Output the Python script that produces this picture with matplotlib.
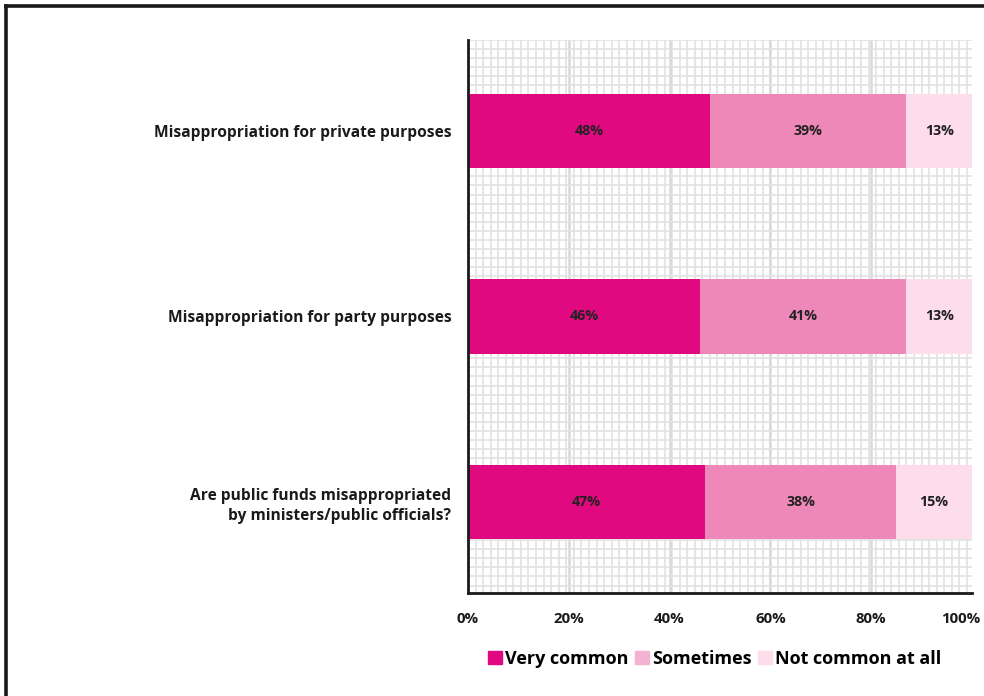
import numpy as np
import matplotlib.pyplot as plt
from matplotlib.patches import Patch
from matplotlib.lines import Line2D
from matplotlib.transforms import ScaledTranslation

plt.rcParams['font.family'] = ['Open Sans', 'DejaVu Sans']

categories = ["Misappropriation for private purposes",
              "Misappropriation for party purposes",
              "Are public funds misappropriated\nby ministers/public officials?"]
very_common = [48, 46, 47]
sometimes = [39, 41, 38]
not_common = [13, 13, 15]
series_names = ["Very common", "Sometimes", "Not common at all"]
x_ticks = [0, 20, 40, 60, 80, 100]

c_very = "#E0097F"
c_some = "#EE88B8"
c_not = "#FDDCEB"

fig = plt.figure(figsize=(9.84, 6.96), dpi=100)
ax = fig.add_axes([468 / 984, 103 / 696, 504 / 984, 553 / 696])

# background grid
for x in np.arange(0, 100.1, 1.5):
    ax.axvline(x, color="#E2E2E2", lw=1.2, zorder=0)
for x in x_ticks[1:-1]:
    ax.axvline(x, color="#D9D9D9", lw=1.8, zorder=0)
for y in np.arange(-0.49, 2.5, 0.049):
    ax.axhline(y, color="#E2E2E2", lw=1.2, zorder=0)

y = np.arange(len(categories))
h = 0.4
left2 = np.array(very_common)
left3 = left2 + np.array(sometimes)
ax.barh(y, very_common, height=h, color=c_very, zorder=2)
ax.barh(y, sometimes, height=h, left=left2, color=c_some, zorder=2)
ax.barh(y, not_common, height=h, left=left3, color=c_not, zorder=2)

for i in range(len(categories)):
    ax.text(very_common[i] / 2, y[i], f"{very_common[i]}%", ha="center", va="center",
            fontsize=10.3, fontweight="bold", color="#222222", zorder=3)
    ax.text(left2[i] + sometimes[i] / 2, y[i], f"{sometimes[i]}%", ha="center", va="center",
            fontsize=10.3, fontweight="bold", color="#222222", zorder=3)
    ax.text(left3[i] + not_common[i] / 2, y[i], f"{not_common[i]}%", ha="center", va="center",
            fontsize=10.3, fontweight="bold", color="#222222", zorder=3)

ax.set_xlim(0, 100)
ax.set_ylim(2.49, -0.49)
ax.set_yticks(y)
ax.set_yticklabels(categories, fontsize=11.2, fontweight="bold", color="#1a1a1a",
                   linespacing=1.3)
ax.set_xticks(x_ticks)
ax.set_xticklabels([f"{t}%" for t in x_ticks], fontsize=10.8, fontweight="bold", color="#1a1a1a")
ax.tick_params(axis="both", length=0)
ax.tick_params(axis="x", pad=14)
ax.tick_params(axis="y", pad=12)
for lbl in ax.get_yticklabels():
    lbl.set_multialignment("right")
# keep the 100% label inside the figure
last = ax.get_xticklabels()[-1]
last.set_horizontalalignment("right")
last.set_transform(last.get_transform() + ScaledTranslation(0.08, 0, fig.dpi_scale_trans))

ax.spines["top"].set_visible(False)
ax.spines["right"].set_visible(False)
ax.spines["left"].set_linewidth(2)
ax.spines["bottom"].set_linewidth(2)
ax.spines["left"].set_color("#1a1a1a")
ax.spines["bottom"].set_color("#1a1a1a")

handles = [Patch(color=c_very), Patch(color="#F4B2D2"), Patch(color=c_not)]
fig.legend(handles, series_names, loc="center", bbox_to_anchor=(715 / 984, 1 - 659 / 696),
           ncol=3, frameon=False, handlelength=0.75, handleheight=0.75,
           handletextpad=0.2, columnspacing=0.35,
           prop={"size": 13, "weight": "bold", "family": ["Open Sans", "DejaVu Sans"]})

# outer frame (top and left edges)
fig.add_artist(Line2D([5.5 / 984, 1], [1 - 5.5 / 696, 1 - 5.5 / 696], color="#1a1a1a", lw=2.6))
fig.add_artist(Line2D([5.5 / 984, 5.5 / 984], [0, 1 - 5.5 / 696], color="#1a1a1a", lw=2.6))

fig.savefig("out.png", dpi=100)
